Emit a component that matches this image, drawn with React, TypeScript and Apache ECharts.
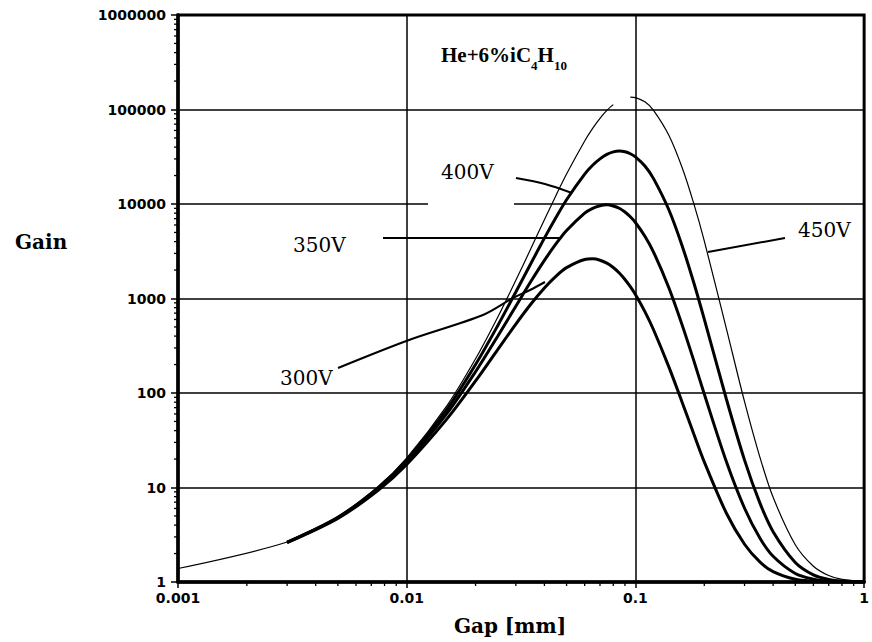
import React, { useEffect, useRef } from 'react';
import * as echarts from 'echarts';

// Gap [mm] sample positions
const gaps = [0.001, 0.003, 0.005, 0.0075, 0.01, 0.015, 0.02, 0.025, 0.03, 0.035, 0.04, 0.045, 0.05, 0.06, 0.065, 0.07, 0.075, 0.08, 0.085, 0.09, 0.095, 0.1, 0.11, 0.12, 0.14, 0.16, 0.18, 0.2, 0.25, 0.3, 0.35, 0.4, 0.5, 0.6, 0.7, 0.8, 1.0];

// Gain for each voltage
const gain300V = [null, 2.61, 4.71, 9.34, 17.5, 53.2, 134, 288, 536, 880, 1293, 1728, 2121, 2588, 2627, 2543, 2365, 2127, 1862, 1591, 1334, 1102, 727, 467, 189, 80, 36.8, 18.7, 5.34, 2.51, 1.63, 1.29, 1.07, 1.02, 1.004, 1.001, 1.0];
const gain350V = [null, 2.63, 4.79, 9.7, 18.7, 60.9, 168, 399, 829, 1529, 2530, 3801, 5241, 8014, 9010, 9600, 9790, 9540, 9010, 8220, 7320, 6370, 4553, 3102, 1301, 526, 220, 97.5, 18.7, 6.03, 2.92, 1.87, 1.23, 1.07, 1.02, 1.006, 1.0];
const gain400V = [null, 2.64, 4.85, 9.98, 19.7, 67.6, 200, 516, 1173, 2377, 4354, 7245, 11100, 20730, 25700, 30000, 33500, 35600, 36300, 35700, 34000, 31500, 25200, 18560, 8690, 3625, 1466, 605, 85.9, 19.5, 6.88, 3.41, 1.61, 1.19, 1.065, 1.023, 1.003];
const gain450V = [1.39, 2.65, 4.9, 10.2, 20.5, 73.5, 230, 634, 1556, 3421, 6819, 12410, 20760, 46480, 63100, 80600, 97800, 112500, null, null, 135200, 133500, 120500, 98100, 53400, 24300, 10090, 4077, 478, 80.9, 21.0, 7.87, 2.48, 1.47, 1.17, 1.066, 1.01];

// Axis tick labels
const xTickLabels = ['0.001', '0.01', '0.1', '1'];
const yTickLabels = ['1', '10', '100', '1000', '10000', '100000', '1000000'];
const xMinorTicks = [0.002, 0.003, 0.004, 0.005, 0.006, 0.007, 0.008, 0.009, 0.02, 0.03, 0.04, 0.05, 0.06, 0.07, 0.08, 0.09, 0.2, 0.3, 0.4, 0.5, 0.6, 0.7, 0.8, 0.9];
const yMinorTicks = [2, 3, 4, 5, 6, 7, 8, 9, 20, 30, 40, 50, 60, 70, 80, 90, 200, 300, 400, 500, 600, 700, 800, 900, 2000, 3000, 4000, 5000, 6000, 7000, 8000, 9000, 20000, 30000, 40000, 50000, 60000, 70000, 80000, 90000, 200000, 300000, 400000, 500000, 600000, 700000, 800000, 900000];

const SANS = 'DejaVu Sans';
const SERIF = 'DejaVu Serif';
const TIMES = 'Liberation Serif';

function measure(text: string, font: string): number {
  const c = document.createElement('canvas').getContext('2d');
  if (!c) return text.length * 10;
  c.font = font;
  return c.measureText(text).width;
}

export default function App() {
  const ref = useRef<HTMLDivElement>(null);
  useEffect(() => {
    if (!ref.current) return;
    const chart = echarts.init(ref.current, undefined, { renderer: 'svg' });
    const toPairs = (ys: (number | null)[]) => gaps.map((g, i) => [g, ys[i] == null ? '-' : ys[i]]);
    const line = (name: string, ys: (number | null)[], width: number) => ({
      name,
      type: 'line',
      data: toPairs(ys),
      smooth: 0.3,
      symbol: 'none',
      showSymbol: false,
      connectNulls: false,
      lineStyle: { color: '#000', width },
      z: 3,
    });

    // title with subscripts
    const mainFont = `bold 21px "${TIMES}"`;
    const subFont = `bold 13px "${TIMES}"`;
    const parts: [string, boolean][] = [['He+6%iC', false], ['4', true], ['H', false], ['10', true]];
    let tx = 441;
    const titleEls: any[] = [];
    parts.forEach(([t, sub]) => {
      titleEls.push({
        type: 'text',
        x: tx,
        y: sub ? 65 : 55,
        z: 10,
        style: {
          text: t,
          fill: '#000',
          font: sub ? subFont : mainFont,
          align: 'left',
          verticalAlign: 'middle',
        },
      });
      tx += measure(t, sub ? subFont : mainFont);
    });

    const label = (text: string, x: number, y: number, font: string, align = 'left') => ({
      type: 'text',
      x,
      y,
      z: 10,
      style: { text, fill: '#000', font, align, verticalAlign: 'middle' },
    });
    const annFont = `20px "${SERIF}"`;
    const leader = (pts: number[][]) => ({
      type: 'polyline',
      shape: { points: pts, smooth: 0.3 },
      style: { stroke: '#000', lineWidth: 2, fill: 'none' },
      z: 10,
    });

    chart.setOption({
      animation: false,
      backgroundColor: '#fff',
      grid: { left: 178, right: 4, top: 15, bottom: 60, show: true, borderColor: '#000', borderWidth: 3 },
      xAxis: {
        type: 'log',
        logBase: 10,
        min: 0.001,
        max: 1,
        splitNumber: 3,
        axisLine: { show: true, lineStyle: { color: '#000', width: 3.5 } },
        axisTick: { show: true, length: 6, lineStyle: { color: '#000', width: 1.5 } },
        axisLabel: {
          show: true,
          showMinLabel: true,
          showMaxLabel: true,
          color: '#000',
          fontFamily: SANS,
          fontWeight: 'bold',
          fontSize: 14,
          margin: 9,
          formatter: (v: number) => xTickLabels[Math.round(Math.log10(v)) + 3] ?? '',
        },
        splitLine: { show: true, lineStyle: { color: '#000', width: 1.5 } },
      },
      yAxis: {
        type: 'log',
        logBase: 10,
        min: 1,
        max: 1000000,
        splitNumber: 6,
        axisLine: { show: true, lineStyle: { color: '#000', width: 3.5 } },
        axisTick: { show: true, length: 7, lineStyle: { color: '#000', width: 1.5 } },
        axisLabel: {
          show: true,
          color: '#000',
          fontFamily: SANS,
          fontWeight: 'bold',
          fontSize: 14,
          margin: 12,
          formatter: (v: number) => yTickLabels[Math.round(Math.log10(v))] ?? '',
        },
        splitLine: { show: true, lineStyle: { color: '#000', width: 1.5 } },
      },
      series: [
        line('300V', gain300V, 3),
        line('350V', gain350V, 3),
        line('400V', gain400V, 3),
        line('450V', gain450V, 1.2),
        {
          type: 'custom',
          silent: true,
          clip: false,
          z: 6,
          data: xMinorTicks.map((v) => [v, 1]),
          renderItem: (_p: any, api: any) => {
            const p = api.coord([api.value(0), api.value(1)]);
            return { type: 'line', shape: { x1: p[0], y1: p[1], x2: p[0], y2: p[1] + 4 }, style: { stroke: '#000', lineWidth: 1.3 } };
          },
        },
        {
          type: 'custom',
          silent: true,
          clip: false,
          z: 6,
          data: yMinorTicks.map((v) => [0.001, v]),
          renderItem: (_p: any, api: any) => {
            const p = api.coord([api.value(0), api.value(1)]);
            return { type: 'line', shape: { x1: p[0] - 4, y1: p[1], x2: p[0], y2: p[1] }, style: { stroke: '#000', lineWidth: 1.3 } };
          },
        },
      ],
      graphic: [
        // break in the 10000 grid line, as in the original print
        { type: 'rect', shape: { x: 428, y: 201, width: 86, height: 6 }, style: { fill: '#fff' }, z: 1, silent: true },
        ...titleEls,
        label('Gain', 15, 242, `bold 20px "${SERIF}"`),
        label('Gap [mm]', 510, 626, `bold 20px "${SERIF}"`, 'center'),
        label('400V', 441, 172, annFont),
        label('350V', 293, 245, annFont),
        label('450V', 798, 230, annFont),
        label('300V', 280, 378, annFont),
        leader([[516, 178], [545, 184], [572, 193]]),
        leader([[383, 238], [560, 238]]),
        leader([[785, 238], [708, 252]]),
        leader([[338, 368], [409, 340], [483, 315], [513, 298], [530, 290], [545, 282]]),
      ],
    });
    return () => chart.dispose();
  }, []);
  return <div ref={ref} style={{ position: 'absolute', left: 0, top: 0, width: 872, height: 642, background: '#fff' }} />;
}
